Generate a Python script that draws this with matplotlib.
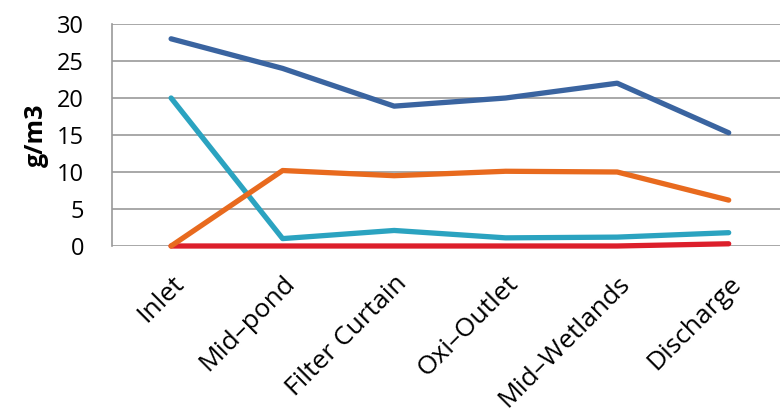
import matplotlib
matplotlib.use("Agg")
import matplotlib.pyplot as plt
import matplotlib.transforms as mtransforms

categories = ["Inlet", "Mid\u2013pond", "Filter Curtain", "Oxi\u2013Outlet", "Mid\u2013Wetlands", "Discharge"]
series_blue = [28, 24, 18.9, 20, 22, 15.3]
series_orange = [0, 10.2, 9.5, 10.1, 10.0, 6.2]
series_cyan = [20, 1.0, 2.1, 1.1, 1.2, 1.8]
series_red = [0, 0, 0, 0, 0, 0.3]
yticks = [0, 5, 10, 15, 20, 25, 30]

plt.rcParams['font.family'] = ['Open Sans', 'DejaVu Sans']
fig = plt.figure(figsize=(7.8, 4.13), dpi=100)
ax = fig.add_axes([112/780, 1-246/413, 1.0-112/780 + 0.01, (246-24)/413])

x = list(range(len(categories)))
kw = dict(lw=3.8, solid_capstyle="round", clip_on=False)
ax.plot(x, series_blue, color="#3A64A0", zorder=3, **kw)
ax.plot(x, series_cyan, color="#2BA3C0", zorder=3, **kw)
ax.plot(x, series_red, color="#DC1F2B", zorder=3, **kw)
ax.plot(x, series_orange, color="#E86A1E", zorder=4, **kw)

ax.set_ylim(0, 30)
ax.set_xlim(-0.53, 5.53)
ax.set_yticks(yticks)
ax.set_yticklabels([str(v) for v in yticks], fontsize=17)
ax.set_xticks(x)
ax.set_xticklabels(categories, rotation=45, ha="right", rotation_mode="anchor", fontsize=19)
offset = mtransforms.ScaledTranslation(-6/100, 0, fig.dpi_scale_trans)
for lab in ax.get_xticklabels():
    lab.set_transform(lab.get_transform() + offset)
ax.tick_params(axis="y", length=0, pad=20)
ax.tick_params(axis="x", length=0, pad=18)
ax.yaxis.grid(True, color="#999999", lw=1.2)
ax.set_axisbelow(True)
for s in ["top", "right", "bottom"]:
    ax.spines[s].set_visible(False)
ax.spines["left"].set_color("#999999")
ax.spines["left"].set_linewidth(1.2)
ax.set_ylabel("g/m3", fontsize=18, fontweight="bold", labelpad=6)

fig.savefig("out.png", dpi=100)
